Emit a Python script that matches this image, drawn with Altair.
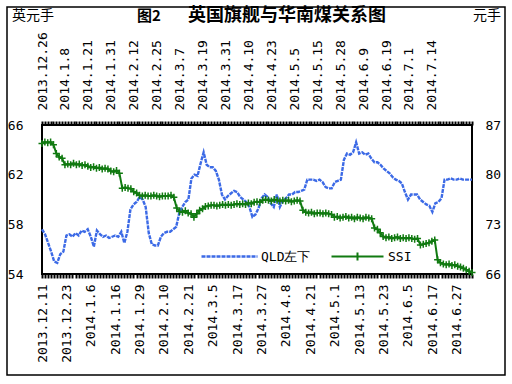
import json
import altair as alt
import pandas as pd

qld_labels = ["2013.12.11", "2013.12.23", "2014.1.6", "2014.1.16", "2014.1.29", "2014.2.10",
              "2014.2.21", "2014.3.5", "2014.3.17", "2014.3.27", "2014.4.8", "2014.4.21",
              "2014.5.1", "2014.5.13", "2014.5.23", "2014.6.5", "2014.6.17", "2014.6.27"]
ssi_labels = ["2013.12.26", "2014.1.8", "2014.1.21", "2014.1.31", "2014.2.12", "2014.2.25",
              "2014.3.7", "2014.3.19", "2014.3.31", "2014.4.10", "2014.4.23", "2014.5.5",
              "2014.5.15", "2014.5.28", "2014.6.9", "2014.6.19", "2014.7.1", "2014.7.14"]
label_step = 8

qld_values = [
    57.6, 57.2, 56.5, 55.8, 55.0, 54.9, 55.6, 55.8, 57.1, 57.2,
    57.0, 57.3, 57.1, 57.5, 57.4, 57.6, 57.0, 56.2, 57.5, 57.2,
    57.0, 57.1, 56.9, 57.0, 57.1, 57.0, 57.4, 56.5, 57.4, 59.2,
    59.6, 59.8, 60.2, 60.0, 59.4, 57.3, 56.4, 56.3, 56.3, 57.0,
    57.3, 57.4, 57.4, 57.6, 57.8, 58.9, 59.4, 59.8, 60.0, 61.7,
    62.0, 61.9, 62.9, 63.8, 62.8, 62.6, 62.6, 62.3, 61.6, 60.4,
    60.0, 60.3, 60.5, 60.7, 60.6, 60.2, 60.0, 59.8, 59.4, 58.6,
    58.8, 59.3, 60.1, 60.4, 60.2, 59.7, 59.4, 60.4, 59.4, 59.9,
    60.1, 60.4, 60.4, 60.6, 60.6, 60.7, 60.8, 61.6, 61.6, 61.6,
    61.5, 61.6, 61.4, 61.0, 60.9, 60.9, 61.4, 61.5, 61.6, 63.2,
    63.7, 63.6, 63.8, 64.6, 63.7, 63.8, 63.6, 63.7, 63.3, 63.0,
    63.0, 62.8, 62.5, 62.3, 62.1, 61.8, 61.6, 61.5, 61.3, 60.6,
    60.0, 60.4, 60.4, 60.4, 60.0, 59.8, 59.6, 59.5, 59.0, 59.7,
    59.8, 60.1, 61.6, 61.6, 61.7, 61.6, 61.6, 61.7, 61.6, 61.6,
    61.6, 61.6,
]
ssi_values = [
    84.4, 84.6, 84.5, 84.6, 84.2, 83.0, 82.5, 82.3, 81.4, 81.5,
    81.4, 81.6, 81.4, 81.5, 81.3, 81.4, 81.2, 81.0, 81.1, 80.9,
    81.0, 80.8, 80.9, 80.8, 80.5, 80.4, 80.6, 80.2, 78.1, 78.2,
    78.1, 78.0, 77.6, 77.4, 77.1, 77.0, 77.1, 77.0, 77.0, 77.1,
    77.0, 76.9, 77.0, 77.0, 77.0, 77.1, 76.8, 75.3, 74.8, 74.7,
    74.9, 74.6, 74.5, 74.0, 74.5, 75.0, 75.2, 75.5, 75.6, 75.7,
    75.7, 75.6, 75.7, 75.8, 75.7, 75.8, 75.7, 75.8, 75.9, 75.8,
    75.9, 75.8, 76.0, 75.9, 76.1, 76.2, 76.1, 76.4, 76.5, 76.4,
    76.3, 76.5, 76.4, 76.3, 76.4, 76.3, 76.4, 76.2, 76.3, 76.4,
    76.3, 75.0, 74.7, 74.6, 74.7, 74.5, 74.6, 74.6, 74.5, 74.6,
    74.5, 74.4, 74.0, 74.1, 73.9, 74.0, 74.1, 73.9, 74.0, 73.8,
    74.0, 73.9, 73.8, 74.0, 73.9, 73.8, 72.5, 72.3, 71.8, 71.3,
    71.1, 71.2, 71.0, 71.1, 71.2, 71.0, 71.1, 71.0, 71.1, 71.0,
    70.9, 71.0, 70.1, 70.2, 70.3, 70.4, 70.6, 70.8, 68.0, 67.6,
    67.4, 67.3, 67.4, 67.2, 67.3, 67.1, 67.0, 66.8, 66.6, 66.4,
    66.2,
]

left_ticks = [54, 58, 62, 66]
right_ticks = [66, 73, 80, 87]
series_names = ["QLD左下", "SSI"]
unit_left = "英元手"
unit_right = "元手"
title_num = "图2"
title_main = "英国旗舰与华南煤关系图"

BLUE = "#3c6ae6"
GREEN = "#117a11"
MONO = "DejaVu Sans Mono"

qld = pd.DataFrame({"i": range(len(qld_values)), "v": qld_values, "s": series_names[0]})
ssi = pd.DataFrame({"i": range(len(ssi_values)), "v": ssi_values, "s": series_names[1]})


def label_expr(labels):
    return f"datum.value % {label_step} == 0 ? {json.dumps(labels)}[datum.value / {label_step}] : ''"


x_axis_common = dict(
    title=None, grid=False, domain=False, tickColor="black", tickWidth=2, tickSize=4,
    labelAngle=-90, labelFont=MONO, labelFontSize=13, labelColor="black",
    labelOverlap=False, labelBound=False, labelFlush=False,
)
y_axis_common = dict(
    title=None, grid=False, domain=False, ticks=False, labelFont=MONO, labelFontSize=13,
    labelColor="black",
)

qld_n = len(qld_values) - 1
ssi_n = len(ssi_values) - 1

qld_chart = alt.Chart(qld).mark_line(strokeWidth=2.4, strokeDash=[4, 1]).encode(
    x=alt.X("i:Q", scale=alt.Scale(domain=[0, qld_n], nice=False, zero=False),
            axis=alt.Axis(orient="bottom", values=list(range(qld_n + 1)),
                          labelExpr=label_expr(qld_labels), labelPadding=6, **x_axis_common)),
    y=alt.Y("v:Q", scale=alt.Scale(domain=[54, 66], nice=False, zero=False),
            axis=alt.Axis(orient="left", values=left_ticks, labelPadding=19, **y_axis_common)),
    color=alt.Color("s:N", scale=alt.Scale(domain=[series_names[0]], range=[BLUE]),
                    legend=alt.Legend(title=None, orient="none", legendX=181, legendY=125,
                                      symbolType="M-5.6,0H5.6", symbolSize=100,
                                      symbolStrokeWidth=2.4, symbolDash=[4, 1],
                                      labelFont=MONO, labelFontSize=13, labelColor="black",
                                      labelOffset=25, padding=0)),
)

ssi_chart = alt.Chart(ssi).mark_line(
    strokeWidth=2,
    point=alt.OverlayMarkDef(shape="M-1,0H1M0,-1V1", size=49, filled=False, strokeWidth=1.5),
).encode(
    x=alt.X("i:Q", scale=alt.Scale(domain=[0, ssi_n], nice=False, zero=False),
            axis=alt.Axis(orient="top", values=list(range(ssi_n + 1)),
                          labelExpr=label_expr(ssi_labels), labelPadding=11, **x_axis_common)),
    y=alt.Y("v:Q", scale=alt.Scale(domain=[66, 87], nice=False, zero=False),
            axis=alt.Axis(orient="right", values=right_ticks, labelPadding=13, **y_axis_common)),
    color=alt.Color("s:N", scale=alt.Scale(domain=[series_names[1]], range=[GREEN]),
                    legend=alt.Legend(title=None, orient="none", legendX=309, legendY=125,
                                      symbolType="M-5.2,0H5.2M0,-0.8V0.8", symbolSize=100,
                                      symbolStrokeWidth=2,
                                      labelFont=MONO, labelFontSize=13, labelColor="black",
                                      labelOffset=24, padding=0)),
)

one = alt.Data(values=[{"a": 1}])
frame = alt.Chart(one).mark_rect(fill="white", fillOpacity=0, stroke="black", strokeWidth=1.5).encode(
    x=alt.value(-35), x2=alt.value(463), y=alt.value(-118), y2=alt.value(250)
)
t_left = alt.Chart(one).mark_text(align="left", baseline="middle", font="Noto Sans CJK SC",
                                  fontSize=14, color="black").encode(
    x=alt.value(-30), y=alt.value(-109), text=alt.value(unit_left))
t_right = alt.Chart(one).mark_text(align="right", baseline="middle", font="Noto Sans CJK SC",
                                   fontSize=14, color="black").encode(
    x=alt.value(459), y=alt.value(-109), text=alt.value(unit_right))
t_num = alt.Chart(one).mark_text(align="left", baseline="middle", font="Noto Sans CJK SC",
                                 fontSize=15, fontWeight="bold", color="black").encode(
    x=alt.value(95), y=alt.value(-109), text=alt.value(title_num))
t_main = alt.Chart(one).mark_text(align="left", baseline="middle", font="Noto Sans CJK SC",
                                  fontSize=18, fontWeight="bold", color="black").encode(
    x=alt.value(146), y=alt.value(-109), text=alt.value(title_main))

chart = alt.layer(qld_chart, ssi_chart, frame, t_left, t_right, t_num, t_main).resolve_scale(
    x="independent", y="independent", color="independent"
).resolve_legend(color="independent").properties(
    width=430, height=149,
    autosize=alt.AutoSizeParams(type="none"),
    padding={"left": 42, "top": 125, "right": 40, "bottom": 110},
    background="white",
).configure_view(stroke="black", strokeWidth=2)

chart.save("out.html", embed_options={"renderer": "svg", "actions": False})
